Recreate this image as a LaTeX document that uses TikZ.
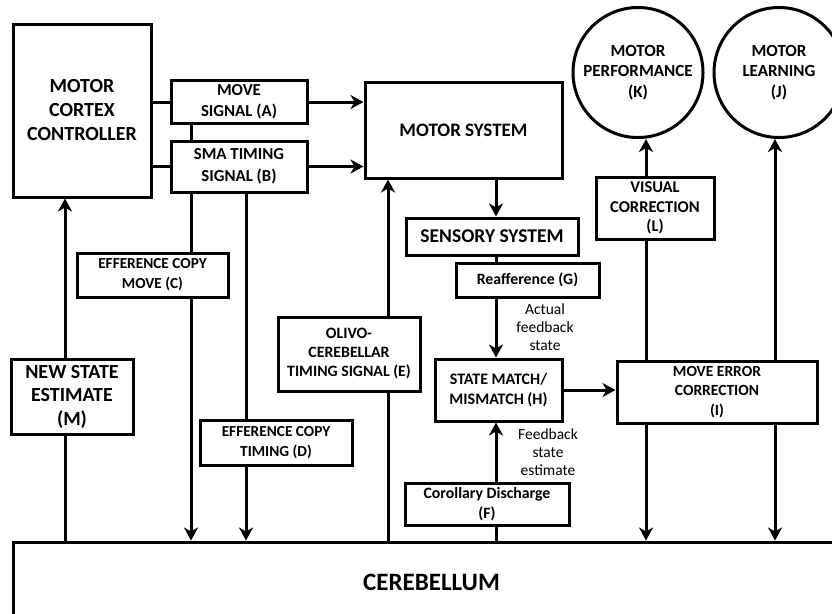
\documentclass[tikz,border=0pt]{standalone}
\usepackage{fontspec}
\setmainfont{Carlito}
\usetikzlibrary{arrows.meta}

\begin{document}
\begin{tikzpicture}[x=1pt,y=1pt,yscale=-1,
  blk/.style={draw, line width=3pt, rectangle, align=center, inner sep=0pt},
  bub/.style={draw, line width=3pt, circle, align=center, inner sep=0pt, minimum size=130pt},
  link/.style={line width=3pt},
  flow/.style={line width=3pt, -{Stealth[length=13pt,width=14pt,inset=4pt]}},
  note/.style={align=center, inner sep=0pt, font=\fontsize{15.5}{18.3}\selectfont}]
\clip (0,0) rectangle (832,613);

%columns of the vertical lines
\coordinate (colM) at (65,0);
\coordinate (colC) at (191,0);
\coordinate (colD) at (246,0);
\coordinate (colE) at (388,0);
\coordinate (colH) at (496,0);
\coordinate (colK) at (646,0);
\coordinate (colJ) at (775,0);

%Shape: Rectangle
\node[blk, minimum width=138pt, minimum height=173pt, font=\fontsize{20}{24}\selectfont\bfseries] (cortex) at (82,110.5) {MOTOR\\CORTEX\\CONTROLLER};
%Shape: Rectangle
\node[blk, minimum width=136pt, minimum height=43pt, font=\fontsize{16.8}{21.5}\selectfont\bfseries] (moveA) at (239,102) {MOVE\\SIGNAL (A)};
%Shape: Rectangle
\node[blk, minimum width=136pt, minimum height=51pt, font=\fontsize{16.8}{21.5}\selectfont\bfseries] (smaB) at (239,166.5) {SMA TIMING\\SIGNAL (B)};
%Shape: Rectangle
\node[blk, minimum width=197pt, minimum height=96pt, font=\fontsize{19}{22}\selectfont\bfseries] (motor) at (463.5,130) {MOTOR SYSTEM};
%Shape: Rectangle
\node[blk, minimum width=151pt, minimum height=44pt, font=\fontsize{15.3}{20}\selectfont\bfseries] (effC) at (152.5,275) {EFFERENCE COPY\\MOVE (C)};
%Shape: Rectangle
\node[blk, minimum width=152pt, minimum height=45pt, font=\fontsize{15.3}{20}\selectfont\bfseries] (effD) at (276,442.5) {EFFERENCE COPY\\TIMING (D)};
%Shape: Rectangle
\node[blk, minimum width=122pt, minimum height=75pt, font=\fontsize{20}{23.5}\selectfont\bfseries] (stateM) at (72,396.5) {NEW STATE\\ESTIMATE\\(M)};
%Shape: Rectangle
\node[blk, minimum width=142pt, minimum height=74pt, font=\fontsize{15.8}{19}\selectfont\bfseries] (olivoE) at (349,354) {OLIVO-\\CEREBELLAR\\TIMING SIGNAL (E)};
%Shape: Rectangle
\node[blk, minimum width=172pt, minimum height=37pt, font=\fontsize{19.5}{22}\selectfont\bfseries] (sensory) at (492,236.5) {SENSORY SYSTEM};
%Shape: Rectangle
\node[blk, minimum width=143pt, minimum height=34pt, font=\fontsize{15.8}{20}\selectfont\bfseries] (reafG) at (527.5,280) {Reafference (G)};
%Shape: Rectangle
\node[blk, minimum width=127pt, minimum height=62pt, font=\fontsize{16}{20.5}\selectfont\bfseries] (matchH) at (498.5,390) {STATE MATCH/\\MISMATCH (H)};
%Shape: Rectangle
\node[blk, minimum width=200pt, minimum height=62pt, font=\fontsize{15.5}{19.5}\selectfont\bfseries] (errI) at (717,392) {MOVE ERROR\\CORRECTION\\(I)};
%Shape: Rectangle
\node[blk, minimum width=164pt, minimum height=42pt, font=\fontsize{15.8}{20}\selectfont\bfseries] (corolF) at (487,504) {Corollary Discharge\\(F)};
%Shape: Rectangle
\node[blk, minimum width=118pt, minimum height=62pt, font=\fontsize{16.5}{19.5}\selectfont\bfseries] (visL) at (655,208) {VISUAL\\CORRECTION\\(L)};
%Shape: Circle
\node[bub, font=\fontsize{17}{20.5}\selectfont\bfseries] (perfK) at (638,72.5) {MOTOR\\PERFORMANCE\\(K)};
%Shape: Circle
\node[bub, font=\fontsize{17}{20.5}\selectfont\bfseries] (learnJ) at (779,72.5) {MOTOR\\LEARNING\\(J)};
%Shape: Rectangle
\node[blk, minimum width=837pt, minimum height=80pt, font=\fontsize{25}{28}\selectfont\bfseries] (cereb) at (431.5,582) {CEREBELLUM};

% Text Node
\node[note] (lblActual) at (545,327) {Actual\\feedback\\state};
% Text Node
\node[note] (lblFeed) at (548,452) {Feedback\\state\\estimate};

%Straight Lines
\draw[link] (cortex.east |- moveA.west) -- (moveA.west);
\draw[link] (cortex.east |- smaB.west) -- (smaB.west);
\draw[flow] (moveA.east) -- (moveA.east -| motor.west);
\draw[flow] (smaB.east) -- (smaB.east -| motor.west);
\draw[link] (moveA.south -| colC) -- (smaB.north -| colC);
\draw[link] (smaB.south -| colC) -- (effC.north -| colC);
\draw[flow] (effC.south -| colC) -- (colC |- cereb.north);
\draw[link] (smaB.south -| colD) -- (effD.north -| colD);
\draw[flow] (effD.south -| colD) -- (colD |- cereb.north);
\draw[link] (colM |- cereb.north) -- (stateM.south -| colM);
\draw[flow] (stateM.north -| colM) -- (colM |- cortex.south);
\draw[link] (colE |- cereb.north) -- (olivoE.south -| colE);
\draw[flow] (olivoE.north -| colE) -- (colE |- motor.south);
\draw[flow] (motor.south -| colH) -- (colH |- sensory.north);
\draw[link] (sensory.south -| colH) -- (colH |- reafG.north);
\draw[flow] (reafG.south -| colH) -- (colH |- matchH.north);
\draw[link] (colH |- cereb.north) -- (corolF.south -| colH);
\draw[flow] (corolF.north -| colH) -- (colH |- matchH.south);
\draw[flow] (matchH.east) -- (matchH.east -| errI.west);
\draw[link] (errI.north -| colK) -- (colK |- visL.south);
\draw[flow] (visL.north -| colK) -- (colK |- perfK.south);
\draw[flow] (errI.north -| colJ) -- (colJ |- learnJ.south);
\draw[flow] (errI.south -| colK) -- (colK |- cereb.north);
\draw[flow] (errI.south -| colJ) -- (colJ |- cereb.north);
\end{tikzpicture}
\end{document}
